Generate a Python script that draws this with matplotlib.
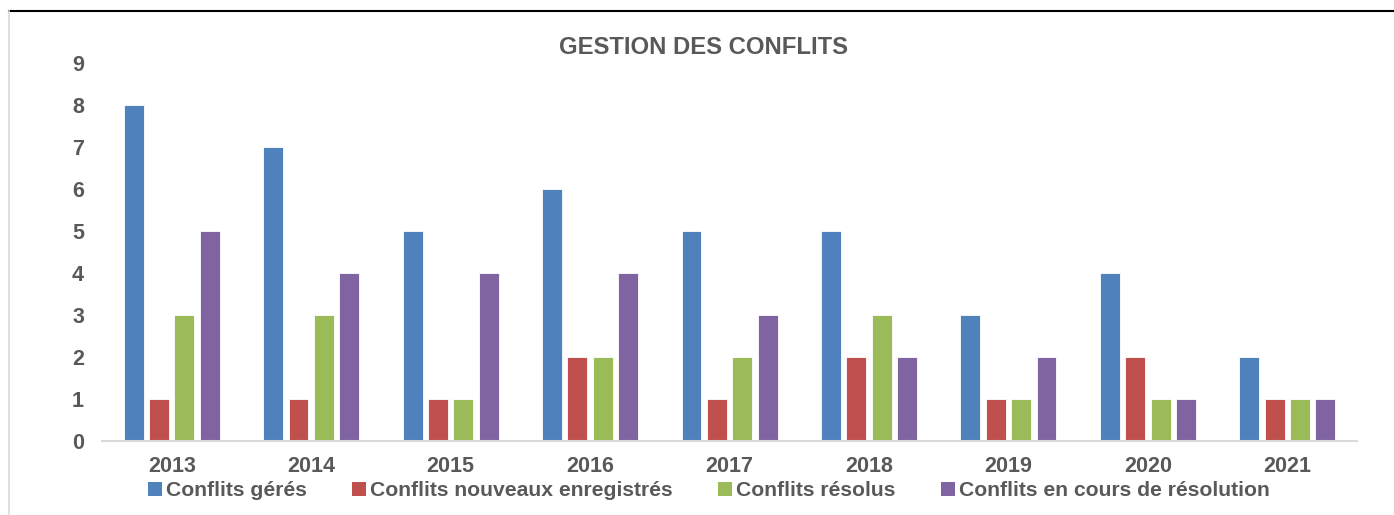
import numpy as np
from matplotlib import pyplot as plt
from matplotlib.lines import Line2D
from matplotlib.patches import Patch

# data
annees = ['2013', '2014', '2015', '2016', '2017', '2018', '2019', '2020', '2021']
geres = [8, 7, 5, 6, 5, 5, 3, 4, 2]
nouveaux = [1, 1, 1, 2, 1, 2, 1, 2, 1]
resolus = [3, 3, 1, 2, 2, 3, 1, 1, 1]
en_cours = [5, 4, 4, 4, 3, 2, 2, 1, 1]
noms = ['Conflits gérés', 'Conflits nouveaux enregistrés', 'Conflits résolus',
        'Conflits en cours de résolution']
couleurs = ['#4F81BD', '#C0504D', '#9BBB59', '#8064A2']

plt.rcParams['font.family'] = ['Liberation Sans', 'DejaVu Sans']
plt.rcParams['font.weight'] = 'bold'
gris = '#595959'

fig = plt.figure(figsize=(13.94, 5.15), dpi=100)
ax = fig.add_axes([0.0732, 0.1437, 0.9003, 0.734])

x = np.arange(len(annees))
largeur = 0.143
pas = 0.182
series = [geres, nouveaux, resolus, en_cours]
for i, (vals, col) in enumerate(zip(series, couleurs)):
    ax.bar(x + (i - 1.5) * pas, vals, width=largeur, color=col,
           edgecolor='white', linewidth=0.6, label=noms[i])

ax.set_xlim(-0.5, len(annees) - 0.5)
ax.set_ylim(0, 9)
ax.set_yticks(range(0, 10))
ax.set_xticks(x)
ax.set_xticklabels(annees)
ax.tick_params(axis='both', length=0, labelsize=15.5, colors=gris)
ax.tick_params(axis='y', pad=13)
ax.tick_params(axis='x', pad=11)
for s in ['top', 'right', 'left']:
    ax.spines[s].set_visible(False)
ax.spines['bottom'].set_color('#D9D9D9')
ax.spines['bottom'].set_linewidth(1.5)

fig.text(0.5045, 0.908, 'GESTION DES CONFLITS', ha='center', va='center',
         fontsize=17.2, fontweight='bold', color=gris)

poignees = [Patch(facecolor=c, edgecolor='none') for c in couleurs]
leg = fig.legend(poignees, noms, loc='center', bbox_to_anchor=(0.5086, 0.047),
                 ncol=4, frameon=False, fontsize=15.2, handlelength=0.65,
                 handleheight=0.65, handletextpad=0.2, columnspacing=2.15,
                 borderpad=0)
for t in leg.get_texts():
    t.set_color(gris)

# cadre
fig.add_artist(Line2D([0.0065, 1.0], [0.979, 0.979], color='black', linewidth=1.5))
fig.add_artist(Line2D([0.0065, 0.0065], [0.0, 0.979], color='#D9D9D9', linewidth=1.2))

fig.savefig('out.png', dpi=100)
